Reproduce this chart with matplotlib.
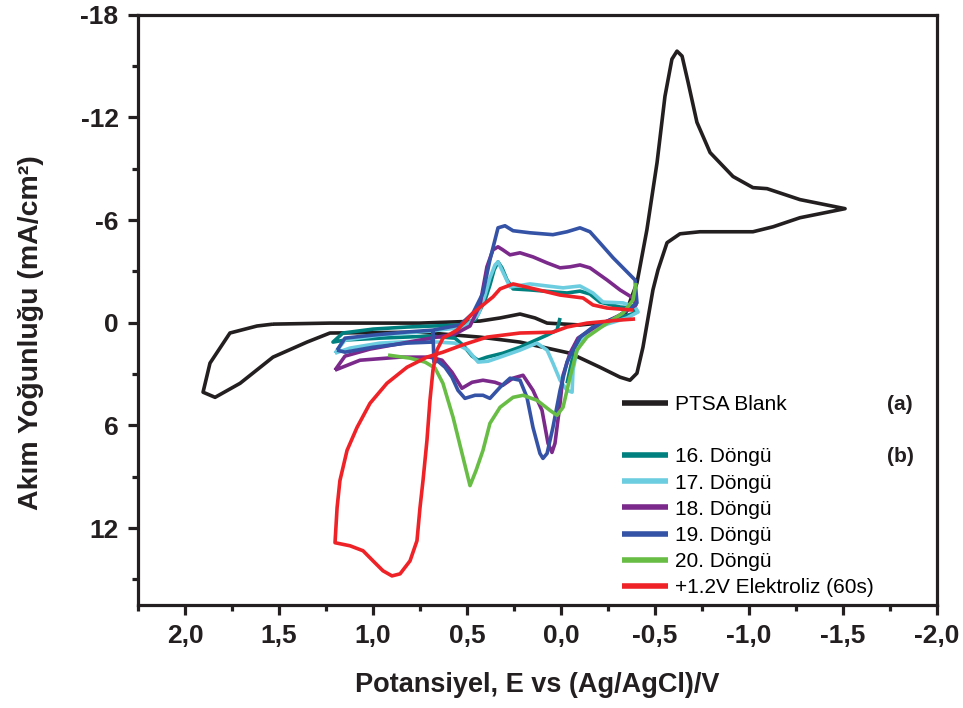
import numpy as np
import matplotlib
matplotlib.use("Agg")
from matplotlib import pyplot as plt
from matplotlib.ticker import FixedLocator, MultipleLocator

plt.rcParams['font.family'] = ['Liberation Sans', 'DejaVu Sans']

# PTSA blank (a)
blank_E = [1.532, 1.229, 0.750, 0.431, 0.324, 0.218, 0.138, 0.074, -0.101, -0.261, -0.340,
           -0.404, -0.457, -0.511, -0.553, -0.590, -0.617, -0.644, -0.676, -0.723, -0.793,
           -0.915, -1.021, -1.096, -1.271, -1.511, -1.271, -1.128, -1.021, -0.739, -0.633,
           -0.564, -0.516, -0.489, -0.436, -0.404, -0.367, -0.314, -0.207, -0.048, 0.218,
           0.431, 0.750, 1.229, 1.351, 1.532, 1.707, 1.840, 1.904, 1.867, 1.761, 1.617, 1.532]
blank_I = [0.08, 0.02, 0.02, -0.10, -0.28, -0.51, -0.28, 0.02, 0.13, -0.04, -0.45,
           -2.33, -5.44, -9.37, -13.24, -15.41, -15.88, -15.59, -14.06, -11.72, -9.95,
           -8.55, -7.90, -7.84, -7.20, -6.67, -6.14, -5.61, -5.32, -5.32, -5.20,
           -4.68, -3.09, -1.92, 1.43, 2.95, 3.36, 3.18, 2.60, 1.78, 1.13,
           0.84, 0.55, 0.60, 1.13, 2.01, 3.54, 4.36, 4.06, 2.36, 0.60, 0.19, 0.08]

# 16. cycle
c16_E = [0.005, 0.021, 0.074, 0.218, 0.309, 0.394, 0.441, 0.473, 0.521, 0.564, 0.697, 0.963,
         1.149, 1.213, 1.160, 0.999, 0.819, 0.681, 0.537, 0.457, 0.404, 0.378, 0.356, 0.335,
         0.314, 0.287, 0.255, 0.165, -0.032, -0.101, -0.154, -0.207, -0.314, -0.383, -0.394,
         -0.287, -0.181, -0.101, -0.059, -0.032]
c16_I = [-0.28, 0.43, 0.72, 1.43, 1.78, 2.01, 2.19, 1.95, 1.31, 0.90, 0.78, 0.90,
         1.01, 1.13, 0.60, 0.37, 0.25, 0.19, 0.13, -0.16, -1.33, -2.21, -3.09, -3.56,
         -3.21, -2.50, -1.98, -1.92, -1.74, -1.85, -1.68, -1.21, -0.92, -0.86, -0.57,
         -0.22, 0.25, 1.01, 2.19, 3.54]

# 17. cycle
c17_E = [1.202, 1.149, 0.963, 0.697, 0.511, 0.441, 0.404, 0.378, 0.351, 0.335, 0.309, 0.271,
         0.165, -0.011, -0.101, -0.170, -0.223, -0.330, -0.394, -0.410, -0.351, -0.245,
         -0.138, -0.085, -0.064, -0.059, -0.032, 0.005, 0.043, 0.074, 0.128, 0.218, 0.324,
         0.388, 0.441, 0.495, 0.564, 0.750, 0.963, 1.122, 1.202]
c17_I = [1.78, 1.01, 0.72, 0.49, 0.25, -0.45, -1.62, -2.62, -3.38, -3.56, -2.97, -2.09,
         -2.27, -2.04, -2.15, -1.74, -1.21, -1.16, -0.92, -0.63, -0.28, 0.08,
         0.60, 1.60, 2.77, 4.06, 3.95, 3.36, 2.36, 1.60, 1.19, 1.60, 2.01,
         2.25, 2.30, 1.60, 1.19, 1.07, 1.19, 1.48, 1.78]

# 18. cycle
c18_E = [1.202, 1.149, 1.016, 0.750, 0.564, 0.484, 0.431, 0.394, 0.362, 0.335, 0.309, 0.271,
         0.218, 0.149, 0.074, 0.005, -0.048, -0.101, -0.154, -0.245, -0.314, -0.383, -0.399,
         -0.314, -0.181, -0.090, -0.048, -0.011, 0.005, 0.032, 0.048, 0.069, 0.101, 0.149,
         0.202, 0.255, 0.309, 0.351, 0.415, 0.473, 0.527, 0.580, 0.633, 0.697, 0.856, 1.069,
         1.202]
c18_I = [2.77, 1.95, 1.54, 1.01, 0.66, 0.19, -1.04, -3.27, -4.26, -4.44, -4.26, -3.97,
         -4.09, -3.85, -3.50, -3.21, -3.27, -3.38, -3.21, -2.50, -1.92, -1.45, -1.04,
         -0.45, 0.25, 0.90, 1.78, 3.07, 4.71, 7.05, 7.58, 7.05, 5.12, 3.95,
         3.07, 3.24, 3.65, 3.48, 3.36, 3.48, 3.83, 2.89, 2.19, 2.01, 2.01, 2.19,
         2.77]

# 19. cycle
c19_E = [1.191, 1.149, 0.999, 0.819, 0.681, 0.537, 0.468, 0.415, 0.378, 0.335, 0.298, 0.255,
         0.165, 0.043, -0.032, -0.101, -0.154, -0.207, -0.277, -0.394, -0.404, -0.298,
         -0.170, -0.101, -0.064, -0.032, 0.005, 0.043, 0.074, 0.096, 0.112, 0.149, 0.181,
         0.218, 0.271, 0.324, 0.378, 0.415, 0.457, 0.511, 0.548, 0.580, 0.617, 0.654, 0.676,
         0.681, 0.686, 0.819, 0.999, 1.149, 1.191]
c19_I = [1.60, 0.90, 0.72, 0.54, 0.43, 0.13, -0.57, -1.74, -3.68, -5.55, -5.67, -5.38,
         -5.26, -5.15, -5.32, -5.55, -5.32, -4.67, -3.80, -2.50, -1.16, -0.33,
         0.25, 0.84, 1.60, 2.30, 3.95, 6.12, 7.64, 7.93, 7.64, 6.12, 4.36,
         3.36, 3.24, 3.77, 4.42, 4.24, 4.24, 4.42, 3.95, 3.18, 2.60, 2.25, 2.30,
         0.49, 1.13, 1.19, 1.43, 1.72, 1.60]

# 20. cycle
c20_E = [0.920, 0.803, 0.723, 0.670, 0.628, 0.574, 0.521, 0.484, 0.452, 0.415, 0.378, 0.324,
         0.255, 0.202, 0.128, 0.059, 0.021, -0.011, -0.048, -0.085, -0.138, -0.245, -0.330,
         -0.383, -0.399]
c20_I = [1.89, 2.07, 2.30, 2.65, 3.54, 5.53, 7.88, 9.52, 8.64, 7.46, 5.88, 4.94,
         4.36, 4.24, 4.53, 5.12, 5.41, 4.94, 3.18, 1.60, 0.84, 0.02, -0.57,
         -1.33, -2.33]

# +1.2 V electrolysis (60 s)
el_E = [-0.383, -0.245, -0.170, -0.117, 0.005, 0.165, 0.255, 0.324, 0.362, 0.468, 0.553,
        0.628, 0.660, 0.681, 0.697, 0.713, 0.734, 0.750, 0.766, 0.803, 0.856, 0.899, 0.947,
        1.000, 1.053, 1.122, 1.202, 1.191, 1.176, 1.138, 1.085, 1.016, 0.926, 0.819, 0.713,
        0.628, 0.527, 0.394, 0.218, 0.043, -0.032, -0.138, -0.314, -0.394]
el_I = [-0.74, -0.86, -1.04, -1.45, -1.62, -2.04, -2.27, -1.98, -1.51, -0.57, 0.43,
        0.90, 1.60, 2.77, 4.53, 6.88, 9.23, 10.81, 12.74, 13.92, 14.68, 14.80, 14.50,
        13.92, 13.33, 13.04, 12.86, 10.81, 9.23, 7.46, 6.12, 4.71, 3.54, 2.60, 2.01,
        1.72, 1.31, 0.84, 0.60, 0.55, 0.25, 0.02, -0.16, -0.22]

x_ticks = [2.0, 1.5, 1.0, 0.5, 0.0, -0.5, -1.0, -1.5, -2.0]
x_labels = ['2,0', '1,5', '1,0', '0,5', '0,0', '-0,5', '-1,0', '-1,5', '-2,0']
y_ticks = [-18, -12, -6, 0, 6, 12]
y_labels = ['-18', '-12', '-6', '0', '6', '12']

fig = plt.figure(figsize=(9.63, 7.08), dpi=100)
ax = fig.add_axes([0.1433, 0.1455, 0.8297, 0.8335])

lw = 2.6
kw = dict(lw=lw, solid_joinstyle='round', solid_capstyle='butt')
h_blank, = ax.plot(blank_E, blank_I, color='#231f20', **kw)
h16, = ax.plot(c16_E, c16_I, color='#00807e', **kw)
h17, = ax.plot(c17_E, c17_I, color='#6ccde0', **kw)
h18, = ax.plot(c18_E, c18_I, color='#7b2a8b', **kw)
h19, = ax.plot(c19_E, c19_I, color='#3553a6', **kw)
h20, = ax.plot(c20_E, c20_I, color='#68bd45', **kw)
h_el, = ax.plot(el_E, el_I, color='#ee2227', **kw)

ax.set_xlim(2.25, -2.0)
ax.set_ylim(16.5, -18)

ax.xaxis.set_major_locator(FixedLocator(x_ticks))
ax.set_xticklabels(x_labels)
ax.xaxis.set_minor_locator(MultipleLocator(0.25))
ax.yaxis.set_major_locator(FixedLocator(y_ticks))
ax.set_yticklabels(y_labels)
ax.yaxis.set_minor_locator(MultipleLocator(3))

for s in ax.spines.values():
    s.set_linewidth(2.3)
    s.set_color('#231f20')
ax.tick_params(which='major', direction='out', length=7, width=2.3, pad=7,
               labelsize=19, colors='#231f20')
ax.tick_params(which='minor', direction='out', length=4, width=2.3, colors='#231f20')
for t in ax.get_xticklabels() + ax.get_yticklabels():
    t.set_fontweight('bold')

ax.set_xlabel('Potansiyel, E vs (Ag/AgCl)/V', fontsize=19.5, fontweight='bold', color='#231f20')
ax.set_ylabel('Akım Yoğunluğu (mA/cm²)', fontsize=20.5, fontweight='bold', color='#231f20')
ax.xaxis.set_label_coords(0.5, -0.113)
ax.yaxis.set_label_coords(-0.118, 0.462)

dummy, = ax.plot([], [], color='none')
handles = [h_blank, dummy, h16, h17, h18, h19, h20, h_el]
labels = ['PTSA Blank', ' ', '16. Döngü', '17. Döngü', '18. Döngü', '19. Döngü',
          '20. Döngü', '+1.2V Elektroliz (60s)']
leg = ax.legend(handles, labels, loc='upper left', bbox_to_anchor=(622 / 963, 1 - 395 / 708),
                bbox_transform=fig.transFigure, frameon=False, fontsize=15,
                handlelength=2.2, handletextpad=0.35, labelspacing=0.345,
                borderpad=0, borderaxespad=0)
for l in leg.get_lines():
    l.set_linewidth(4)

fig.text(900 / 963, 1 - 404 / 708, '(a)', ha='center', va='center', fontsize=15,
         fontweight='bold', color='#231f20')
fig.text(900 / 963, 1 - 457 / 708, '(b)', ha='center', va='center', fontsize=15,
         fontweight='bold', color='#231f20')

fig.savefig('out.png', dpi=100)
